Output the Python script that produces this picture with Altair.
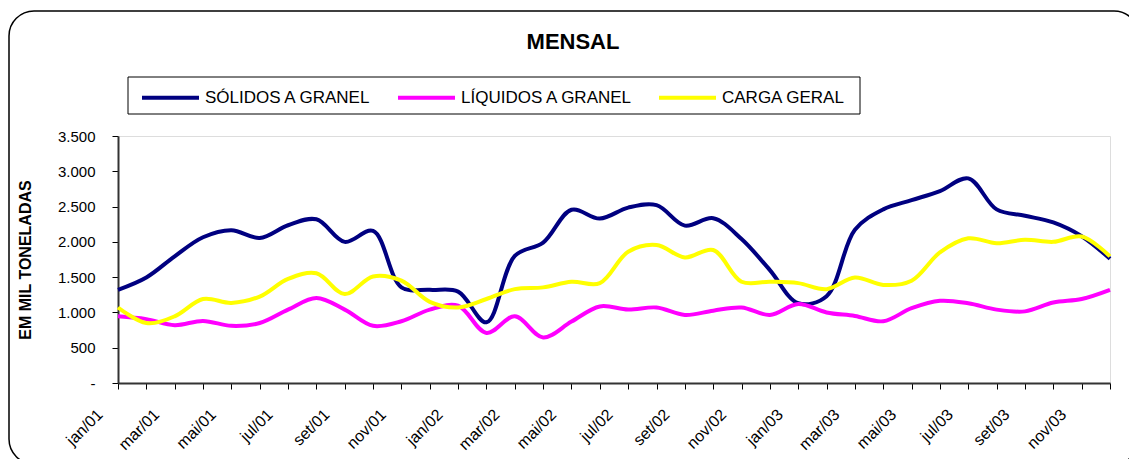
import altair as alt
import pandas as pd

months = ["jan/01", "fev/01", "mar/01", "abr/01", "mai/01", "jun/01",
          "jul/01", "ago/01", "set/01", "out/01", "nov/01", "dez/01",
          "jan/02", "fev/02", "mar/02", "abr/02", "mai/02", "jun/02",
          "jul/02", "ago/02", "set/02", "out/02", "nov/02", "dez/02",
          "jan/03", "fev/03", "mar/03", "abr/03", "mai/03", "jun/03",
          "jul/03", "ago/03", "set/03", "out/03", "nov/03", "dez/03"]
shown_labels = ["jan/01", "mar/01", "mai/01", "jul/01", "set/01", "nov/01",
                "jan/02", "mar/02", "mai/02", "jul/02", "set/02", "nov/02",
                "jan/03", "mar/03", "mai/03", "jul/03", "set/03", "nov/03"]

series_names = ["SÓLIDOS A GRANEL", "LÍQUIDOS A GRANEL", "CARGA GERAL"]
series_colors = ["#000080", "#FF00FF", "#FFFF00"]

solidos = [1320, 1495, 1795, 2065, 2165, 2055, 2235, 2320, 2000, 2155, 1355, 1320,
           1295, 860, 1800, 1990, 2455, 2330, 2485, 2520, 2230, 2335, 2040, 1600,
           1130, 1230, 2170, 2460, 2590, 2720, 2900, 2460, 2370, 2275, 2080, 1760]
liquidos = [945, 905, 820, 880, 810, 850, 1040, 1205, 1040, 810, 875, 1040,
            1095, 710, 945, 645, 870, 1085, 1040, 1070, 965, 1025, 1070, 965,
            1120, 1000, 950, 875, 1060, 1165, 1130, 1040, 1015, 1140, 1190, 1320]
carga = [1070, 850, 945, 1190, 1135, 1225, 1475, 1555, 1260, 1510, 1450, 1150,
         1070, 1190, 1330, 1355, 1435, 1415, 1860, 1955, 1780, 1885, 1435, 1435,
         1415, 1330, 1495, 1390, 1450, 1850, 2050, 1980, 2030, 2000, 2075, 1795]

y_ticks = [0, 500, 1000, 1500, 2000, 2500, 3000, 3500]

rows = []
for name, vals in zip(series_names, [solidos, liquidos, carga]):
    for m, v in zip(months, vals):
        rows.append({"mes": m, "serie": name, "valor": v})
df = pd.DataFrame(rows)

FONT = "Liberation Sans"
label_list = "[" + ",".join("'" + s + "'" for s in shown_labels) + "]"

lines = alt.Chart(df).mark_line(strokeWidth=4, interpolate="catmull-rom").encode(
    x=alt.X("mes:N", sort=months,
            scale=alt.Scale(type="point", padding=0),
            axis=alt.Axis(title=None, labelAngle=-45, labelAlign="right",
                          labelBaseline="top", labelFontSize=16, labelFont=FONT,
                          labelColor="black", labelOverlap=False,
                          labelExpr="indexof(" + label_list + ", datum.label) >= 0 ? datum.label : ''",
                          tickSize=6, tickColor="black", tickWidth=1,
                          domainColor="#333333", domainWidth=2,
                          labelPadding=17, labelOffset=-24, grid=False)),
    y=alt.Y("valor:Q",
            scale=alt.Scale(domain=[0, 3500], nice=False),
            axis=alt.Axis(title="EM MIL TONELADAS", titleFont=FONT, titleFontSize=16,
                          titleFontWeight="bold", titleColor="black", titlePadding=24,
                          values=y_ticks, labelFontSize=15, labelFont=FONT,
                          labelColor="black", labelPadding=17,
                          labelExpr="datum.value == 0 ? '-' : replace(format(datum.value, ','), ',', '.')",
                          tickSize=6, tickColor="black", tickWidth=1,
                          domainColor="#333333", domainWidth=2, grid=False)),
    color=alt.Color("serie:N",
                    scale=alt.Scale(domain=series_names, range=series_colors),
                    legend=alt.Legend(title=None, orient="none", legendX=22, legendY=-69,
                                      direction="horizontal", columns=3,
                                      symbolType="stroke", symbolSize=3249,
                                      symbolStrokeWidth=4, labelFontSize=17,
                                      labelFont=FONT, labelColor="black",
                                      labelLimit=400, labelOffset=4,
                                      padding=0, strokeColor="transparent",
                                      columnPadding=18)),
)

border = alt.Chart(pd.DataFrame({"a": [0]})).mark_rect(
    fill="transparent", stroke="black", strokeWidth=1.5, cornerRadius=25
).encode(
    x=alt.value(-109), x2=alt.value(1021),
    y=alt.value(-125), y2=alt.value(328),
)

legend_box = alt.Chart(pd.DataFrame({"a": [0]})).mark_rect(
    fill="white", stroke="black", strokeWidth=1
).encode(
    x=alt.value(10), x2=alt.value(742),
    y=alt.value(-59), y2=alt.value(-22),
)

chart = alt.layer(border, legend_box, lines).properties(
    width=992, height=247,
    autosize=alt.AutoSizeParams(type="none"),
    padding={"left": 110, "top": 128, "right": 19, "bottom": 76},
    title=alt.TitleParams("MENSAL", font=FONT, fontSize=22, fontWeight="bold",
                          color="black", anchor="middle", frame="group",
                          dx=-41, offset=-61, baseline="alphabetic"),
).configure_view(
    fill="#C0C0C0", stroke="#808080", strokeWidth=2
).configure(background="white")

chart.save("out.html", embed_options={"renderer": "svg", "actions": False})
